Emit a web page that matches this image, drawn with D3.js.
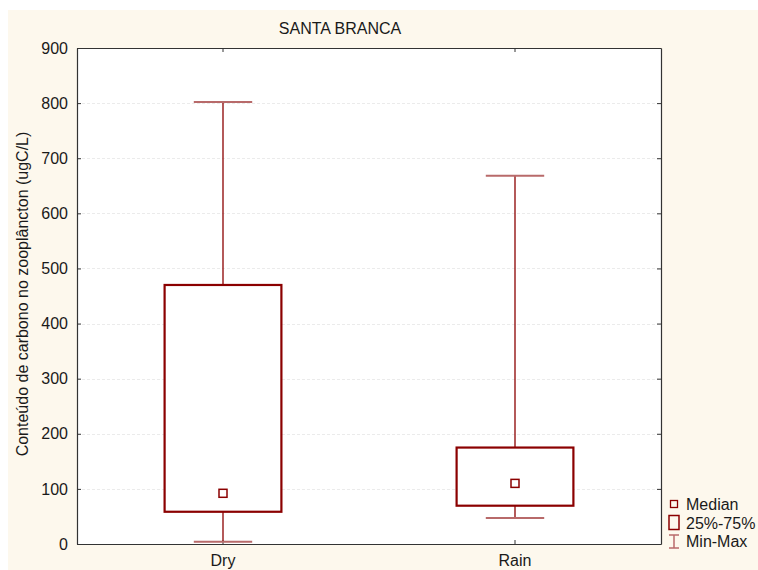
<!DOCTYPE html>
<html>
<head>
<meta charset="utf-8">
<script src="https://cdn.jsdelivr.net/npm/d3@7"></script>
<style>
  body { margin: 0; background: #fff; }
  text { font-family: "Liberation Sans", Arial, sans-serif; fill: #1a1a1a; }
</style>
</head>
<body>
<div class="chart_wrapper"></div>
<script>
var categories = ['Dry', 'Rain'];
var minValues = [4, 47];
var q1Values = [58.5, 69.5];
var medianValues = [92, 110];
var q3Values = [470, 175];
var maxValues = [802, 668];
var yTicks = [0, 100, 200, 300, 400, 500, 600, 700, 800, 900];
var legendLabels = ['Median', '25%-75%', 'Min-Max'];

var width = 758;
var height = 570;
var margin = { top: 48, right: 97, bottom: 26, left: 77 };
var plotW = width - margin.left - margin.right;
var plotH = height - margin.top - margin.bottom;
var red = '#8b0000';
var fontSize = '16px';

var svg = d3.select('.chart_wrapper').append('svg')
  .attr('width', width).attr('height', height);

// cream panel
svg.append('rect').attr('x', 8).attr('y', 10)
  .attr('width', width - 8).attr('height', height - 10)
  .attr('fill', '#fdf8ed');

var g = svg.append('g')
  .attr('transform', 'translate(' + margin.left + ',' + margin.top + ')');

g.append('rect').attr('width', plotW).attr('height', plotH).attr('fill', '#fff');

var x = d3.scaleBand().domain(categories).range([0, plotW]).paddingInner(0.6).paddingOuter(0.3);
var y = d3.scaleLinear().domain([0, 900]).range([plotH, 0]);

// grid
g.selectAll('.grid').data(yTicks.slice(1, -1)).enter().append('line')
  .attr('x1', 0).attr('x2', plotW)
  .attr('y1', function (d) { return Math.round(y(d)) + 0.5; })
  .attr('y2', function (d) { return Math.round(y(d)) + 0.5; })
  .attr('stroke', '#ebebeb').attr('stroke-dasharray', '3,2');

// axes (ticks pointing inward)
var yAxis = g.append('g').call(d3.axisLeft(y).tickValues(yTicks).tickSizeInner(-4).tickSizeOuter(0).tickPadding(9));
var yAxisR = g.append('g').attr('transform', 'translate(' + plotW + ',0)')
  .call(d3.axisRight(y).tickValues(yTicks).tickSizeInner(-4).tickSizeOuter(0).tickFormat(''));
var xAxis = g.append('g').attr('transform', 'translate(0,' + plotH + ')')
  .call(d3.axisBottom(x).tickSizeInner(-4).tickSizeOuter(0).tickPadding(11));
var xAxisT = g.append('g')
  .call(d3.axisTop(x).tickSizeInner(-4).tickSizeOuter(0).tickFormat(''));

[yAxis, yAxisR, xAxis, xAxisT].forEach(function (a) {
  a.select('.domain').attr('stroke', '#333').attr('stroke-width', 1.2);
  a.selectAll('.tick line').attr('stroke', '#333');
  a.selectAll('text').style('font-size', fontSize).attr('fill', '#1a1a1a')
    .style('font-family', '"Liberation Sans", Arial, sans-serif');
});

var data = categories.map(function (c, i) {
  return { cat: c, min: minValues[i], q1: q1Values[i], med: medianValues[i], q3: q3Values[i], max: maxValues[i] };
});

var bw = x.bandwidth();
var boxes = g.selectAll('.box').data(data).enter().append('g').attr('class', 'box')
  .attr('transform', function (d) { return 'translate(' + (x(d.cat) + bw / 2) + ',0)'; });

// whiskers
boxes.append('line').attr('x1', 0).attr('x2', 0)
  .attr('y1', function (d) { return y(d.max); }).attr('y2', function (d) { return y(d.q3); })
  .attr('stroke', red).attr('stroke-width', 1.3);
boxes.append('line').attr('x1', 0).attr('x2', 0)
  .attr('y1', function (d) { return y(d.q1); }).attr('y2', function (d) { return y(d.min); })
  .attr('stroke', red).attr('stroke-width', 1.3);
// caps
boxes.selectAll('.cap').data(function (d) { return [d.min, d.max]; }).enter().append('line')
  .attr('x1', -bw / 4).attr('x2', bw / 4)
  .attr('y1', function (v) { return y(v); }).attr('y2', function (v) { return y(v); })
  .attr('stroke', '#b86a6a').attr('stroke-width', 2);
// box
boxes.append('rect')
  .attr('x', -bw / 2).attr('width', bw)
  .attr('y', function (d) { return y(d.q3); })
  .attr('height', function (d) { return y(d.q1) - y(d.q3); })
  .attr('fill', '#fff').attr('stroke', red).attr('stroke-width', 2.2);
// median
boxes.append('rect')
  .attr('x', -4).attr('width', 8)
  .attr('y', function (d) { return y(d.med) - 4; }).attr('height', 8)
  .attr('fill', '#fff').attr('stroke', red).attr('stroke-width', 1.5);

// title
svg.append('text').attr('x', 340).attr('y', 34).attr('text-anchor', 'middle')
  .style('font-size', fontSize).text('SANTA BRANCA');

// y label
svg.append('text')
  .attr('transform', 'translate(28,' + (margin.top + plotH / 2 - 2) + ') rotate(-90)')
  .attr('text-anchor', 'middle').style('font-size', fontSize)
  .text('Conteúdo de carbono no zooplâncton (ugC/L)');

// legend
var legend = svg.selectAll('.legend').data(legendLabels).enter().append('g').attr('class', 'legend')
  .attr('transform', function (d, i) { return 'translate(674,' + (504 + i * 18.5) + ')'; });
legend.append('text').attr('x', 12).attr('y', 6).style('font-size', fontSize)
  .text(function (d) { return d; });
legend.filter(function (d, i) { return i === 0; }).append('rect')
  .attr('x', -3.5).attr('y', -3.5).attr('width', 7).attr('height', 7)
  .attr('fill', 'none').attr('stroke', red).attr('stroke-width', 1.3);
legend.filter(function (d, i) { return i === 1; }).append('rect')
  .attr('x', -5).attr('y', -7).attr('width', 10).attr('height', 14)
  .attr('fill', 'none').attr('stroke', red).attr('stroke-width', 1.5);
var mm = legend.filter(function (d, i) { return i === 2; });
mm.append('line').attr('x1', 0).attr('x2', 0).attr('y1', -6).attr('y2', 7).attr('stroke', '#b86a6a').attr('stroke-width', 1.5);
mm.append('line').attr('x1', -5).attr('x2', 5).attr('y1', -6).attr('y2', -6).attr('stroke', '#b86a6a').attr('stroke-width', 1.5);
mm.append('line').attr('x1', -5).attr('x2', 5).attr('y1', 7).attr('y2', 7).attr('stroke', '#b86a6a').attr('stroke-width', 1.5);
</script>
</body>
</html>
